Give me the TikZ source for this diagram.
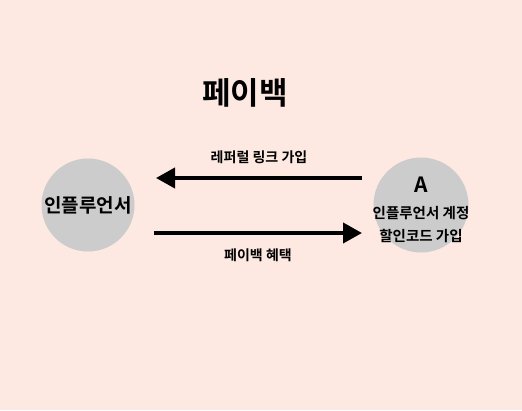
\documentclass[tikz,border=0pt]{standalone}
\usepackage{fontspec}
\setmainfont{Noto Sans CJK KR Bold}
\usetikzlibrary{arrows.meta}
\definecolor{peach}{HTML}{FDE9E2}
\definecolor{circgray}{HTML}{CCCCCC}

\begin{document}
\begin{tikzpicture}[x=1pt, y=1pt,
		party/.style={draw=none, circle, fill=circgray, minimum size=93pt, inner sep=0pt},
		flow/.style={-{Triangle[length=19pt, width=20pt]}, line width=4pt}]
				\fill[peach] (0, 0) rectangle (522, 410);
				\useasboundingbox (0, 0) rectangle (522, 410);
				\node[font=\fontsize{31}{34}\selectfont] (T)at(245, 317) {페이백};
				\node[party, font=\fontsize{19}{22}\selectfont] (INF)at(88, 205) {인플루언서};
				\node[party, minimum size=95pt] (ACC)at(421, 205) {};
				\node[font=\fontsize{21}{24}\selectfont] (AL)at(421, 225) {A};
				\node[font=\fontsize{14.5}{16}\selectfont, align=center] (AT)at(421, 185) {인플루언서 계정\\[7pt]할인코드 가입};
				\coordinate (R1) at (362, 232);
				\coordinate (L1) at (156, 232);
				\coordinate (L2) at (154, 177);
				\coordinate (R2) at (362, 177);
				\draw[flow] (R1) -- (L1) node[midway, above=9pt, font=\fontsize{14}{16}\selectfont] (REF) {레퍼럴 링크 가입};
				\draw[flow] (L2) -- (R2) node[midway, below=10pt, font=\fontsize{14}{16}\selectfont] (PAY) {페이백 혜택};
			\end{tikzpicture}
\end{document}
